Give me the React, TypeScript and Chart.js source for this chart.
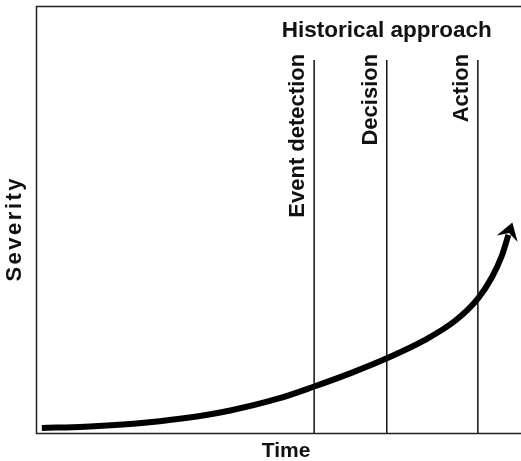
import React, { useEffect, useRef } from "react";
import { Chart, registerables } from "chart.js";

Chart.register(...registerables);

// Severity curve (x: time 0-100, y: severity 0-100)
const curveX = [1.1, 10, 20, 30, 40, 50, 57.3, 65, 72.3, 80, 86.4, 91.1, 94.0, 96.0, 97.4];
const curveY = [1.3, 1.6, 2.3, 3.5, 5.4, 8.2, 11.0, 14.2, 17.6, 21.8, 26.4, 31.6, 36.6, 41.5, 46.5];

// Event markers
const eventLabels = ["Event detection", "Decision", "Action"];
const eventX = [57.3, 72.3, 91.1];
const eventTop = 87.5;

const titleText = "Historical approach";
const xAxisTitle = "Time";
const yAxisTitle = "Severity";

const FONT = "'Liberation Sans', Arial, Helvetica, sans-serif";

export default function App() {
  const ref = useRef<HTMLCanvasElement>(null);

  useEffect(() => {
    const canvas = ref.current;
    if (!canvas) return;

    const decor = {
      id: "decor",
      afterDatasetsDraw(chart: any) {
        const { ctx, chartArea, scales } = chart;
        const xs = scales.x;
        const ys = scales.y;
        ctx.save();

        // frame
        ctx.strokeStyle = "#222";
        ctx.lineWidth = 1.5;
        ctx.beginPath();
        ctx.moveTo(chartArea.right + 5, chartArea.top);
        ctx.lineTo(chartArea.left, chartArea.top);
        ctx.lineTo(chartArea.left, chartArea.bottom);
        ctx.lineTo(chartArea.right + 5, chartArea.bottom);
        ctx.stroke();

        // arrowhead at curve end
        const n = curveX.length;
        const x1 = xs.getPixelForValue(curveX[n - 2]);
        const y1 = ys.getPixelForValue(curveY[n - 2]);
        const x2 = xs.getPixelForValue(curveX[n - 1]);
        const y2 = ys.getPixelForValue(curveY[n - 1]);
        let dx = x2 - x1;
        let dy = y2 - y1;
        const len = Math.hypot(dx, dy);
        dx /= len;
        dy /= len;
        const px = -dy;
        const py = dx;
        const tipX = x2 + dx * 13;
        const tipY = y2 + dy * 13;
        const backX = tipX - dx * 17;
        const backY = tipY - dy * 17;
        const notchX = tipX - dx * 11;
        const notchY = tipY - dy * 11;
        ctx.fillStyle = "#000";
        ctx.beginPath();
        ctx.moveTo(tipX, tipY);
        ctx.lineTo(backX + px * 11, backY + py * 11);
        ctx.lineTo(notchX, notchY);
        ctx.lineTo(backX - px * 11, backY - py * 11);
        ctx.closePath();
        ctx.fill();

        // event labels
        ctx.fillStyle = "#111";
        ctx.font = `bold 22px ${FONT}`;
        const topPx = ys.getPixelForValue(eventTop);
        eventLabels.forEach((label, i) => {
          const lx = xs.getPixelForValue(eventX[i]);
          ctx.save();
          ctx.translate(lx - 10, topPx - 6);
          ctx.rotate(-Math.PI / 2);
          ctx.textAlign = "right";
          ctx.textBaseline = "alphabetic";
          ctx.fillText(label, 0, 0);
          ctx.restore();
        });

        // title centered over the middle event line
        ctx.font = `bold 22.5px ${FONT}`;
        ctx.textAlign = "center";
        ctx.textBaseline = "alphabetic";
        ctx.fillText(titleText, xs.getPixelForValue(eventX[1]), 37);

        // x-axis title
        ctx.font = `bold 21px ${FONT}`;
        ctx.fillText(xAxisTitle, 286, 457);

        // y-axis title
        ctx.save();
        ctx.translate(21, 230);
        ctx.rotate(-Math.PI / 2);
        ctx.font = `bold 22px ${FONT}`;
        (ctx as any).letterSpacing = "2.5px";
        ctx.textAlign = "center";
        ctx.fillText(yAxisTitle, 1.25, 0);
        ctx.restore();

        ctx.restore();
      },
    };

    const eventSets = eventX.map((x) => ({
      data: [
        { x, y: 0 },
        { x, y: eventTop },
      ],
      showLine: true,
      borderColor: "#111",
      borderWidth: 1.5,
      pointRadius: 0,
      fill: false,
    }));

    const chart = new Chart(canvas, {
      type: "scatter",
      data: {
        datasets: [
          ...eventSets,
          {
            data: curveX.map((x, i) => ({ x, y: curveY[i] })),
            showLine: true,
            borderColor: "#000",
            borderWidth: 6,
            borderCapStyle: "butt",
            cubicInterpolationMode: "monotone",
            pointRadius: 0,
            fill: false,
          },
        ],
      },
      options: {
        responsive: false,
        animation: false,
        devicePixelRatio: 1,
        layout: { padding: { left: 36.5, top: 6.5, right: 0, bottom: 27.5 } },
        plugins: {
          legend: { display: false },
          tooltip: { enabled: false },
          title: { display: false },
        },
        scales: {
          x: { type: "linear", min: 0, max: 100, display: false },
          y: { type: "linear", min: 0, max: 100, display: false },
        },
      } as any,
      plugins: [decor],
    });

    return () => chart.destroy();
  }, []);

  return (
    <div
      style={{
        position: "fixed",
        left: 0,
        top: 0,
        width: 521,
        height: 461,
        background: "#fff",
      }}
    >
      <canvas ref={ref} width={521} height={461} />
    </div>
  );
}
